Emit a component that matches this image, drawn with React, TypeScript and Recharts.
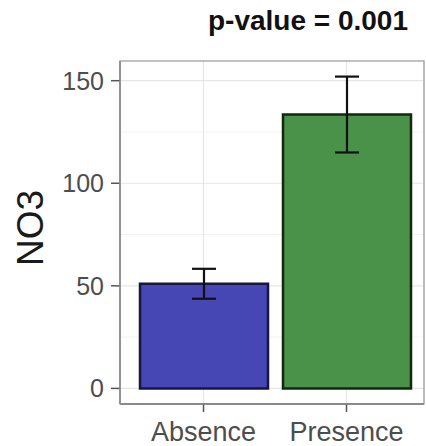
import React from 'react';
import { BarChart, Bar, XAxis, YAxis, CartesianGrid, ErrorBar, Cell } from 'recharts';

const groups = ['Absence', 'Presence'];
const means = [51, 133.5];
const errors = [7.3, 18.5];
const fills = ['#4646b4', '#4a914a'];
const outlines = ['#16163f', '#0f2a0f'];
const yTicks = [0, 50, 100, 150];
const minorTicks = [25, 75, 125];

const data = groups.map((g, i) => ({ group: g, value: means[i], err: errors[i] }));

const FONT = '"Liberation Sans", Arial, Helvetica, sans-serif';

export default function App() {
  return (
    <div style={{ position: 'absolute', left: 0, top: 0, width: 426, height: 446, background: '#fff' }}>
      <BarChart
        width={426}
        height={446}
        data={data}
        margin={{ top: 61, right: 2, bottom: 12, left: 0 }}
      >
        <CartesianGrid horizontalValues={minorTicks} vertical={false} stroke="#f3f3f3" strokeWidth={1} />
        <CartesianGrid horizontalValues={yTicks} stroke="#e6e6e6" strokeWidth={1.2} />
        <XAxis
          dataKey="group"
          height={30}
          padding={{ left: 12, right: 6 }}
          tickSize={8}
          tickMargin={10}
          tickLine={{ stroke: '#555', strokeWidth: 1.5 }}
          axisLine={{ stroke: '#444', strokeWidth: 1.5 }}
          tick={{ fill: '#4d4d4d', fontSize: 27, fontFamily: FONT }}
        />
        <YAxis
          width={120}
          domain={[-7.6, 159.6]}
          ticks={yTicks}
          allowDataOverflow
          tickSize={9}
          tickMargin={7}
          tickLine={{ stroke: '#555', strokeWidth: 1.5 }}
          axisLine={{ stroke: '#666', strokeWidth: 1.5 }}
          tick={{ fill: '#4d4d4d', fontSize: 25, fontFamily: FONT }}
        />
        <Bar dataKey="value" barSize={128} strokeWidth={2.5} isAnimationActive={false}>
          {data.map((d, i) => (
            <Cell key={d.group} fill={fills[i]} stroke={outlines[i]} />
          ))}
          <ErrorBar dataKey="err" width={12} stroke="#111" strokeWidth={2.2} isAnimationActive={false} />
        </Bar>
      </BarChart>
      <svg
        width={426}
        height={446}
        style={{ position: 'absolute', left: 0, top: 0, pointerEvents: 'none' }}
      >
        <rect x={120} y={61} width={304} height={343} fill="none" stroke="#999" strokeWidth={1.2} />
        <text
          x={208}
          y={30}
          fontFamily={FONT}
          fontWeight="bold"
          fontSize={27}
          fill="#111"
          textLength={200}
          lengthAdjust="spacingAndGlyphs"
        >
          p-value = 0.001
        </text>
        <text
          x={43}
          y={228}
          transform="rotate(-90, 43, 228)"
          textAnchor="middle"
          fontFamily={FONT}
          fontSize={37}
          fill="#1a1a1a"
        >
          NO3
        </text>
      </svg>
    </div>
  );
}
